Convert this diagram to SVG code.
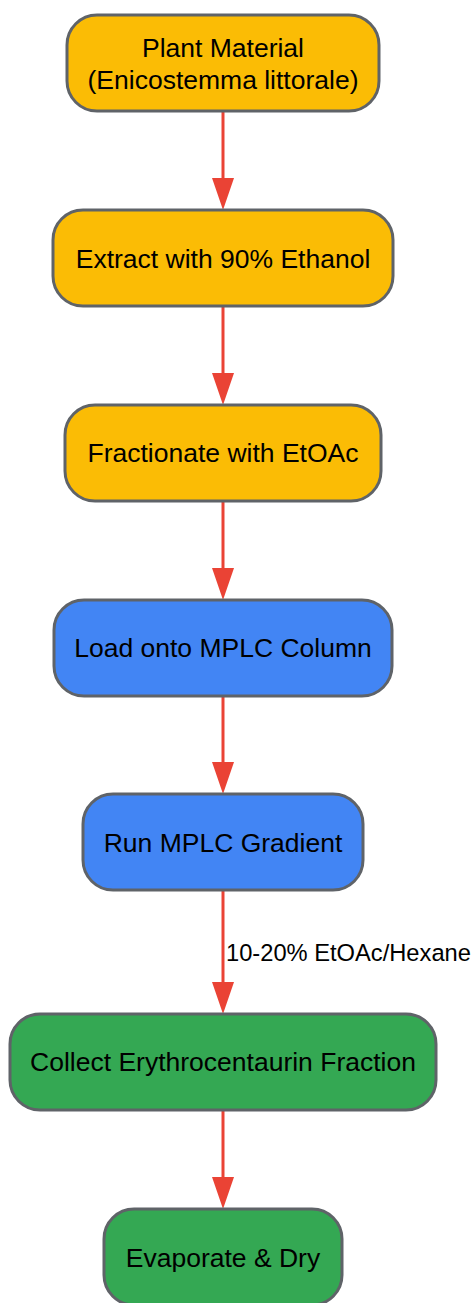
<svg xmlns="http://www.w3.org/2000/svg" width="473" height="1303" viewBox="0 0 473 1303">
<defs>
<style>
.n rect{stroke:#5f6368;stroke-width:3}
.y{fill:#fbbc05}.b{fill:#4285f4}.g{fill:#34a853}
.n text{font-family:"Liberation Sans",Arial,sans-serif;font-size:26.5px;fill:#000;text-anchor:middle;dominant-baseline:central}
.e line{stroke:#ea4335;stroke-width:3}
.e polygon{fill:#ea4335}
.lbl{font-family:"Liberation Sans",Arial,sans-serif;font-size:23.7px;fill:#000;dominant-baseline:central}
</style>
</defs>
<rect width="473" height="1303" fill="#fff"/>
<g id="connectors" class="e">
<line x1="223" y1="111" x2="223" y2="180"/><polygon points="212,178 234,178 223,210"/>
<line x1="223" y1="306" x2="223" y2="375"/><polygon points="212,373 234,373 223,405"/>
<line x1="223" y1="501" x2="223" y2="570"/><polygon points="212,568 234,568 223,600"/>
<line x1="223" y1="696" x2="223" y2="764"/><polygon points="212,762 234,762 223,794"/>
<line x1="223" y1="890" x2="223" y2="984"/><polygon points="212,982 234,982 223,1014"/>
<text class="lbl" x="226" y="953">10-20% EtOAc/Hexane</text>
<line x1="223" y1="1110" x2="223" y2="1179"/><polygon points="212,1177 234,1177 223,1209"/>
</g>
<g id="n1" class="n"><rect class="y" x="67" y="15" width="312" height="96" rx="30"/><text x="223" y="48">Plant Material</text><text x="223" y="80">(Enicostemma littorale)</text></g>
<g id="n2" class="n"><rect class="y" x="53" y="210" width="340" height="96" rx="30"/><text x="223" y="259">Extract with 90% Ethanol</text></g>
<g id="n3" class="n"><rect class="y" x="65" y="405" width="316" height="96" rx="30"/><text x="223" y="453">Fractionate with EtOAc</text></g>
<g id="n4" class="n"><rect class="b" x="54" y="600" width="338" height="96" rx="30"/><text x="223" y="648">Load onto MPLC Column</text></g>
<g id="n5" class="n"><rect class="b" x="83" y="794" width="280" height="96" rx="30"/><text x="223" y="843">Run MPLC Gradient</text></g>
<g id="n6" class="n"><rect class="g" x="10" y="1014" width="426" height="96" rx="30"/><text x="223" y="1062">Collect Erythrocentaurin Fraction</text></g>
<g id="n7" class="n"><rect class="g" x="104" y="1209" width="238" height="96" rx="30"/><text x="223" y="1258">Evaporate &amp; Dry</text></g>
</svg>
